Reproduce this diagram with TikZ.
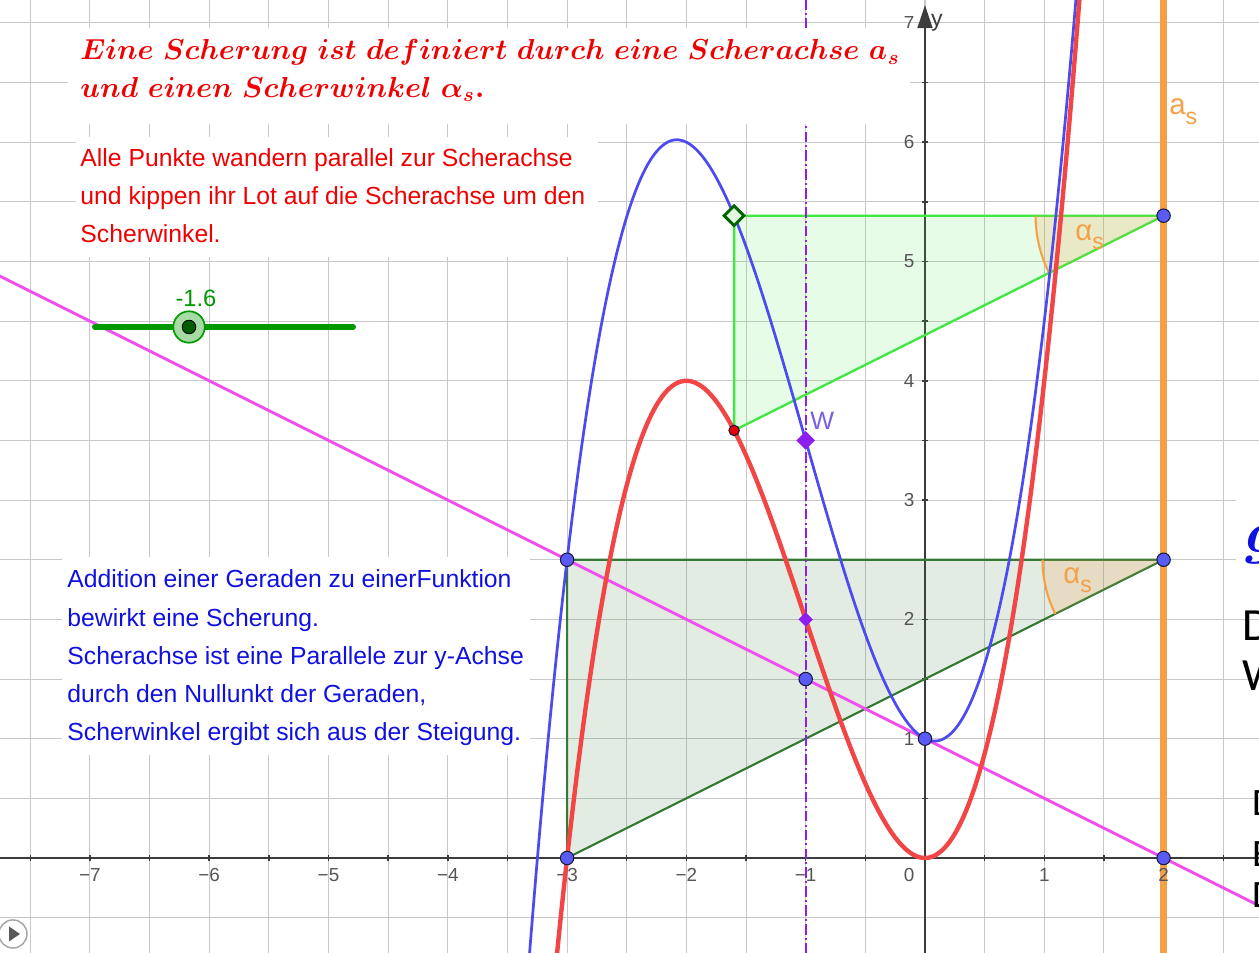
\RequirePackage{fix-cm}
\documentclass[tikz,border=0pt]{standalone}
\usepackage{fontspec}
\setsansfont{Liberation Sans}
\newfontfamily\calfont{Carlito}
\usepackage{tikz}
\usetikzlibrary{arrows.meta,shapes.geometric}
\definecolor{cRed}    {HTML}{F24646}
\definecolor{cBlue}   {HTML}{4B4BF0}
\definecolor{cMag}    {HTML}{F050F0}
\definecolor{cOrange} {HTML}{F5A047}
\definecolor{cLime}   {HTML}{40E840}
\definecolor{cDkGreen}{HTML}{347A34}
\definecolor{cDiam}   {HTML}{006400}
\definecolor{cPurple} {HTML}{8C1EF0}
\definecolor{cWlab}   {HTML}{7B5CE6}
\definecolor{cSlider} {HTML}{009900}
\definecolor{cGrid}   {HTML}{C8C8C8}
\definecolor{cAxis}   {HTML}{3C3C3C}
\definecolor{cLabel}  {HTML}{555555}
\definecolor{cPoint}  {HTML}{5A5AF5}
\definecolor{cDark}   {HTML}{1A1A40}
\definecolor{cRedTxt} {HTML}{F00000}
\definecolor{cBlueTxt}{HTML}{1010E0}
\newcommand{\lowsub}[1]{\raisebox{-0.6ex}{\fontsize{11}{11}\selectfont #1}}
\tikzset{
  >={Triangle[length=11pt,width=7pt]},
  gridline/.style={cGrid,line width=0.5pt},
  axisline/.style={cAxis,line width=1.2pt},
  tickmark/.style={cAxis,line width=0.7pt},
  axlabel/.style={inner sep=0,text=cLabel,font=\sffamily\fontsize{9}{9}\selectfont},
  hidebox/.style={fill=white},
  fcurve/.style={cRed,line width=2.1pt,line cap=round},
  gcurve/.style={cBlue,line width=1.3pt,line cap=round},
  gline/.style={cMag,line width=1.4pt},
  saxis/.style={cOrange,line width=3.1pt},
  wline/.style={cPurple,line width=1.1pt,dash pattern=on 5pt off 1.5pt on 1pt off 1.5pt},
  dtri/.style={draw=cDkGreen,line width=1pt,fill=cDkGreen,fill opacity=0.14,line join=round},
  ltri/.style={draw=cLime,line width=1.1pt,fill=cLime,fill opacity=0.12,line join=round},
  wfill/.style={cOrange,fill opacity=0.2},
  warc/.style={cOrange,line width=1pt},
  bpt/.style={circle,inner sep=0,minimum size=6.4pt,fill=cPoint,draw=cDark,line width=0.5pt},
  rpt/.style={bpt,minimum size=5pt,fill=red!90!black},
  ppt/.style={diamond,inner sep=0,minimum size=9pt,fill=cPurple},
  rtext/.style={inner sep=0,align=left,text=cRedTxt,font=\sffamily\fontsize{11.8}{18.1}\selectfont},
  btext/.style={inner sep=0,align=left,text=cBlueTxt,font=\sffamily\fontsize{11.8}{18.2}\selectfont},
  olabel/.style={inner sep=0,text=cOrange,font=\sffamily\fontsize{14}{14}\selectfont},
  frag/.style={inner sep=0,text=black,font=\calfont\fontsize{22}{22}\selectfont},
}
\begin{document}
\begin{tikzpicture}[x=2cm,y=2cm]
  \useasboundingbox (-7.7536,-0.7963) rectangle (2.7997,7.1920);
  \clip (-7.7536,-0.7963) rectangle (2.7997,7.1920);
  \fill[white] (-7.7536,-0.7963) rectangle (2.7997,7.1920);
  \draw[gridline,step=1cm] (-7.7536,-0.7963) grid (2.7997,7.1920);

  % axes
  \draw[axisline] (-7.7536,0) -- (2.7997,0);
  \draw[axisline,->] (0,-0.7963) -- (0,7.150);
  \foreach \t in {-7.5,-7,...,2.5} \draw[tickmark] (\t,-0.025) -- (\t,0.025);
  \foreach \t in {0.5,1,...,6.5} \draw[tickmark] (-0.025,\t) -- (0.025,\t);
  \node[inner sep=0,text=cAxis,font=\sffamily\fontsize{11}{11}\selectfont] (ylab) at (0.1,7.0) {y};

  \coordinate (A) at (-3,0);
  \coordinate (B) at (-3,2.5);
  \coordinate (C) at (2,2.5);
  \coordinate (D) at (2,0);
  \coordinate (E) at (0,1);
  \coordinate (F) at (-1,1.5);
  \coordinate (R) at (-1.6,3.584);
  \coordinate (Q) at (-1.6,5.384);
  \coordinate (G) at (2,5.384);
  \coordinate (W) at (-1,3.5);
  \coordinate (V) at (-1,2);

  % shear triangles and angles
  \filldraw[dtri] (A) -- (B) -- (C) -- cycle;
  \filldraw[ltri] (R) -- (Q) -- (G) -- cycle;
  \fill[wfill] (C) -- ++(180:2.03cm) arc[start angle=180,end angle=206.565,radius=2.03cm] -- cycle;
  \draw[warc] (C) ++(180:2.03cm) arc[start angle=180,end angle=206.565,radius=2.03cm];
  \fill[wfill] (G) -- ++(180:2.146cm) arc[start angle=180,end angle=206.565,radius=2.146cm] -- cycle;
  \draw[warc] (G) ++(180:2.146cm) arc[start angle=180,end angle=206.565,radius=2.146cm];

  % lines
  \coordinate (g1) at (-8,5);
  \coordinate (g2) at (3,-0.5);
  \draw[gline] (g1) -- (g2);
  \draw[saxis] (2,-0.8) -- (2,7.2);
  \draw[wline] (-1,-0.8) -- (-1,7.2);

  % axis numbers
  \foreach \n in {1,...,7} \node[axlabel] at (-\n,-0.1425) {−\n};
  \node[axlabel] at (1,-0.1425) {1};
  \node[axlabel] at (2,-0.1425) {2};
  \node[axlabel] at (-0.134,-0.1425) {0};
  \foreach \n in {1,...,7} \node[axlabel,anchor=east] at (-0.085,\n) {\n};

  % f and f+g
  \draw[gcurve] plot[domain=-3.35:1.3,samples=200,smooth] (\x,{\x*\x*\x+3*\x*\x-0.5*\x+1});
  \draw[fcurve] plot[domain=-3.12:1.33,samples=200,smooth] (\x,{\x*\x*\x+3*\x*\x});

  % points
  \node[bpt] (pA) at (A) {};
  \node[bpt] (pB) at (B) {};
  \node[bpt] (pC) at (C) {};
  \node[bpt] (pD) at (D) {};
  \node[bpt] (pE) at (E) {};
  \node[bpt] (pF) at (F) {};
  \node[bpt] (pG) at (G) {};
  \node[rpt] (pR) at (R) {};
  \node[diamond,inner sep=0,minimum size=10pt,draw=cDiam,line width=1.4pt,fill=cLime!15] (pQ) at (Q) {};
  \node[ppt] (pW) at (W) {};
  \node[ppt,minimum size=7pt] (pV) at (V) {};

  % labels
  \node[inner sep=0,anchor=base west,text=cWlab,font=\sffamily\fontsize{12}{12}\selectfont] (wlab) at (-0.964,3.588) {W};
  \node[olabel,anchor=base west] (aslab) at (2.045,6.228) {a\lowsub{s}};
  \node[olabel,anchor=base west] (al1) at (1.257,5.180) {α\lowsub{s}};
  \node[olabel,anchor=base west] (al2) at (1.157,2.305) {α\lowsub{s}};

  % slider
  \coordinate (s1) at (-6.957,4.451);
  \coordinate (s2) at (-4.795,4.451);
  \draw[cSlider,line width=2.9pt,line cap=round] (s1) -- (s2);
  \node[circle,inner sep=0,minimum size=15pt,fill=cSlider!35,draw=cSlider,line width=0.8pt] (knob) at (-6.169,4.451) {};
  \node[circle,inner sep=0,minimum size=6.5pt,fill=cSlider!60!black,draw=black,line width=0.4pt] (knobin) at (knob) {};
  \node[inner sep=0,text=cSlider,font=\sffamily\fontsize{11.3}{11.3}\selectfont] (slab) at (-6.111,4.694) {-1.6};

  % play button
  \node[circle,inner sep=0,minimum size=13.4pt,draw=black!35,line width=0.7pt] (play) at (-7.645,-0.637) {};
  \fill[black!65] (play.center) ++(-0.033,0.063) -- ++(0.092,-0.063) -- ++(-0.092,-0.063) -- cycle;

  % white boxes behind the texts
  \fill[hidebox] (-7.184,6.153) rectangle (-0.126,6.957);
  \fill[hidebox] (-7.117,5.038) rectangle (-2.741,6.044);
  \fill[hidebox] (-7.234,0.863) rectangle (-3.311,2.523);
  \fill[hidebox] (2.607,2.220) rectangle (2.80,3.200);

  % texts
  \node[inner sep=0,anchor=north west,align=left,text=cRedTxt,font=\boldmath\fontsize{13.8}{17.8}\selectfont] (title) at (-7.083,6.862)
    {$Eine\ Scherung\ ist\ definiert\ durch\ eine\ Scherachse\ a_s$\\$und\ einen\ Scherwinkel\ \alpha_s.$};
  \node[rtext,anchor=north west] (hint) at (-7.083,5.951)
    {Alle Punkte wandern parallel zur Scherachse\\und kippen ihr Lot auf die Scherachse um den\\Scherwinkel.};
  \node[btext,anchor=north west] (note) at (-7.192,2.418)
    {Addition einer Geraden zu einerFunktion\\bewirkt eine Scherung.\\Scherachse ist eine Parallele zur y-Achse\\durch den Nullunkt der Geraden,\\Scherwinkel ergibt sich aus der Steigung.};

  % text cut off at the right edge
  \node[inner sep=0,anchor=base west,text=cBlueTxt,font=\boldmath\fontsize{28}{28}\selectfont] (gfrag) at (2.682,2.557) {$g$};
  \node[frag,anchor=base west] (d1) at (2.657,1.827) {D};
  \node[frag,anchor=base west] (w1) at (2.657,1.408) {W};
  \node[frag,anchor=base west,font=\calfont\fontsize{18.5}{18.5}\selectfont] (d2) at (2.741,0.360) {D};
  \node[frag,anchor=base west,font=\calfont\fontsize{18.5}{18.5}\selectfont] (e2) at (2.741,-0.075) {E};
  \node[frag,anchor=base west,font=\calfont\fontsize{18.5}{18.5}\selectfont] (d3) at (2.741,-0.411) {D};
\end{tikzpicture}
\end{document}
